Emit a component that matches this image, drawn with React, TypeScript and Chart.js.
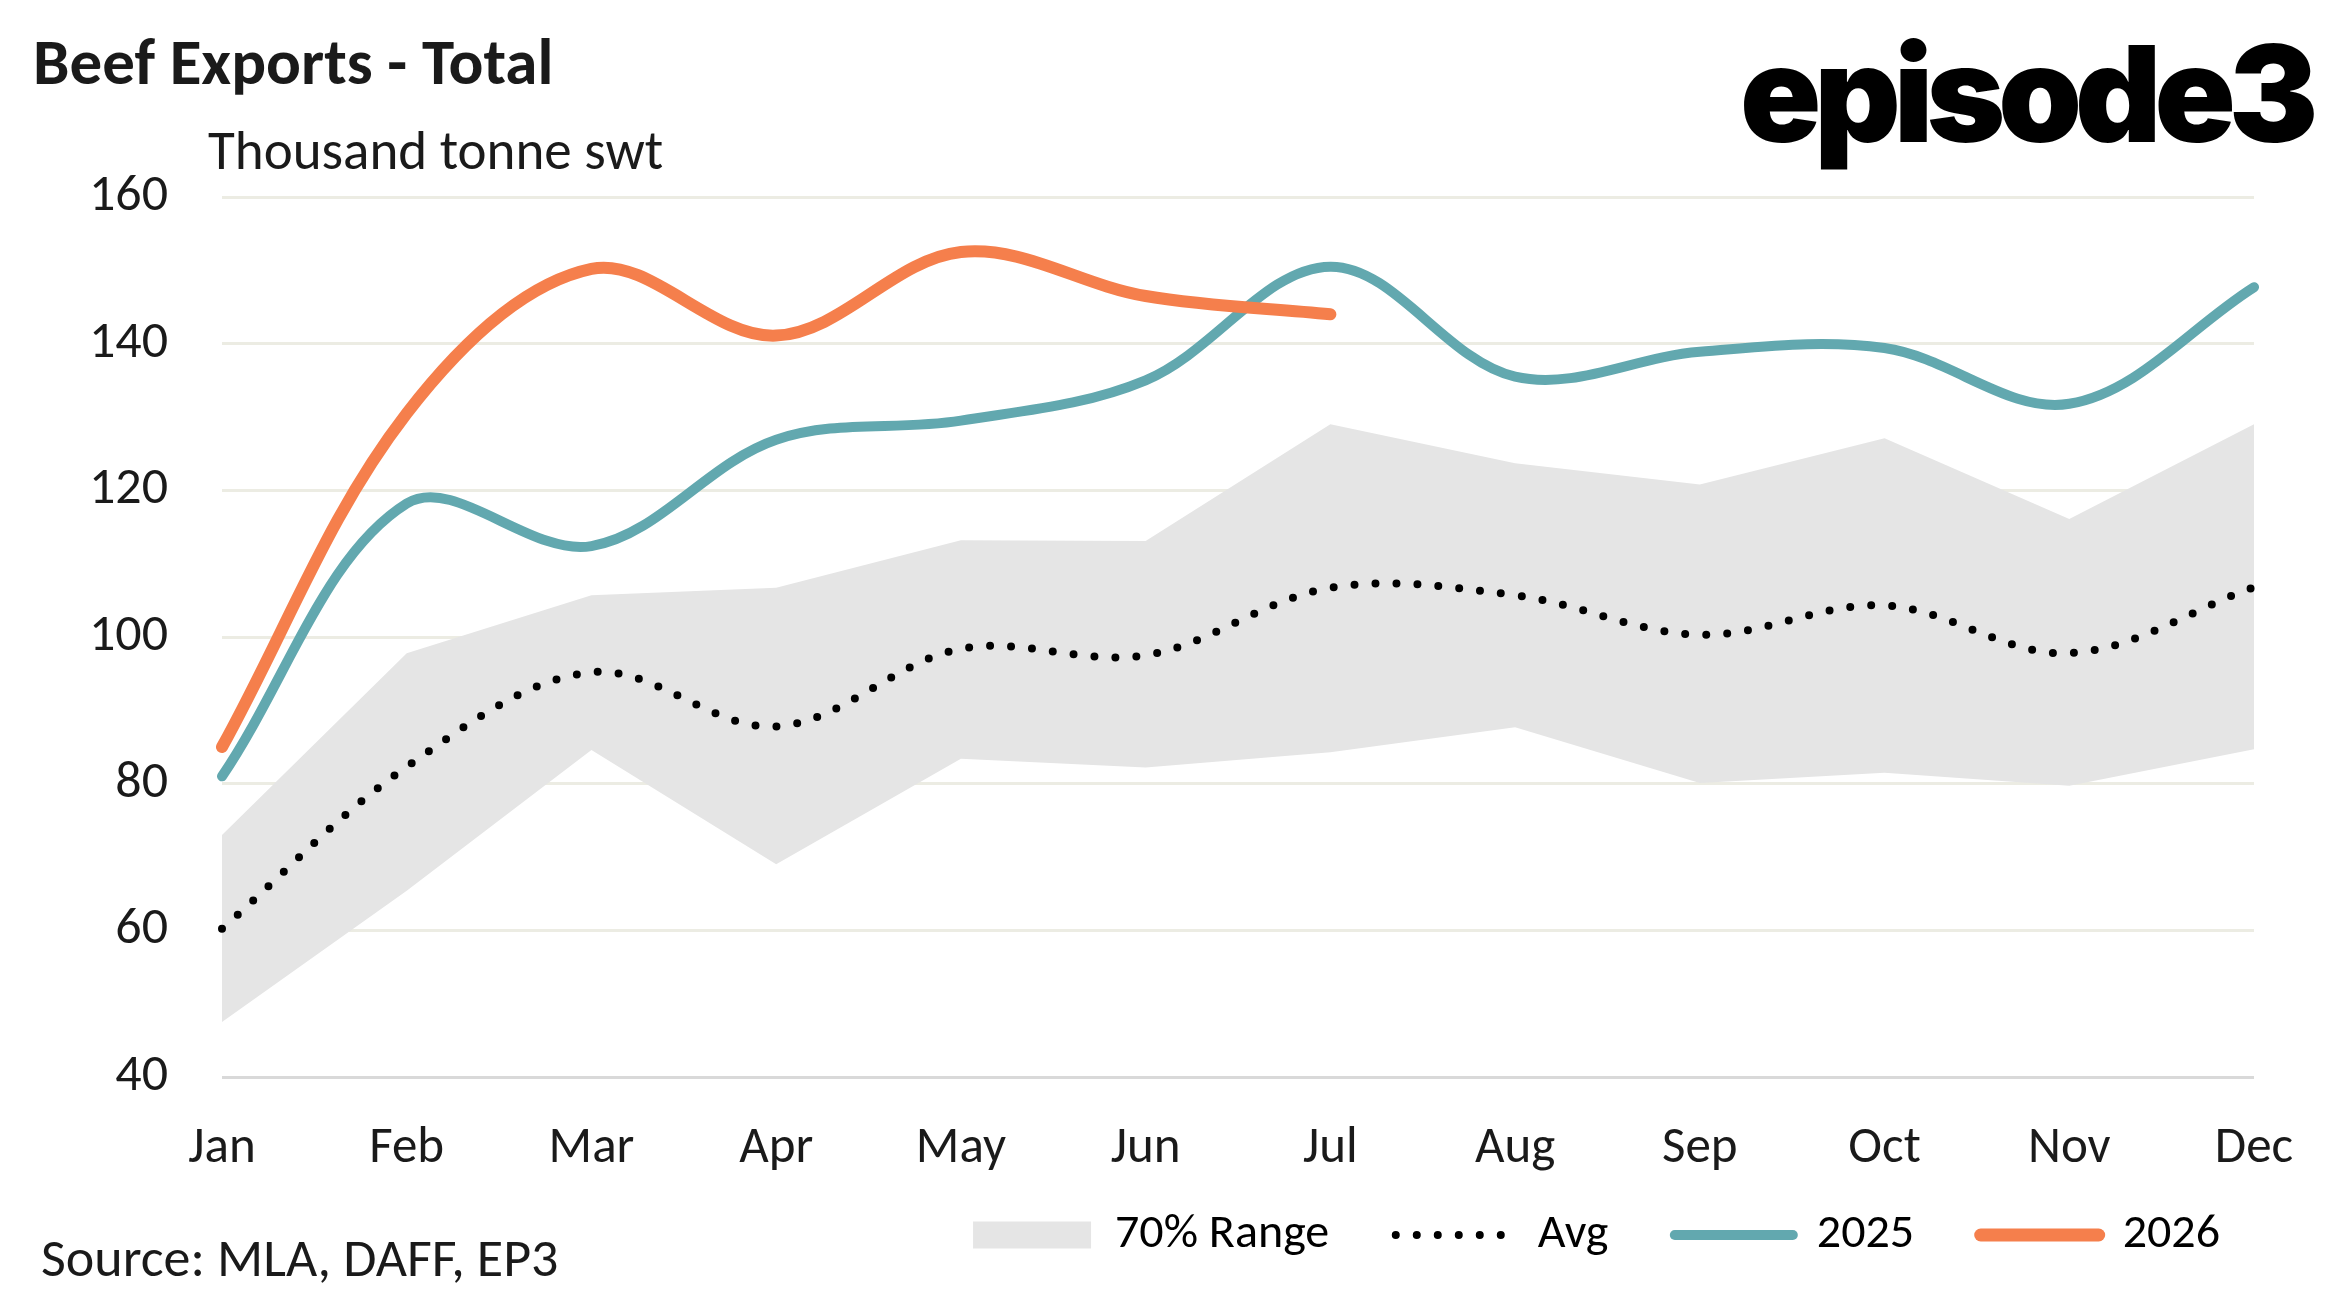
import { Chart, registerables } from "chart.js";
import { useEffect, useRef } from "react";
Chart.register(...registerables);

const months = ["Jan", "Feb", "Mar", "Apr", "May", "Jun", "Jul", "Aug", "Sep", "Oct", "Nov", "Dec"];
const rangeLow = [47.5, 65.4, 84.6, 69, 83.4, 82.2, 84.3, 87.7, 80.1, 81.5, 79.7, 84.7];
const rangeHigh = [73, 97.8, 105.7, 106.7, 113.2, 113.1, 129, 123.7, 120.8, 127.1, 116.1, 129];
const avg = [60.2, 82.3, 95.2, 87.8, 98.4, 97.5, 106.7, 105.7, 100.3, 104.3, 97.8, 106.8];
const y2025 = [81, 118.2, 112.4, 126.9, 129.5, 135, 150.5, 135.5, 138.9, 139.4, 131.8, 147.7];
const y2026 = [85, 130.5, 150.2, 141.1, 152.5, 146.5, 144, null, null, null, null, null];
const yTicks = [40, 60, 80, 100, 120, 140, 160];

const FONT = "Carlito, Lato, 'Open Sans', sans-serif";
const TEAL = "#62a8af";
const ORANGE = "#f57f4c";
const BAND = "#e5e5e5";
// trailing spaces widen the gap between legend entries
const GAP = "   ";

function BeefChart() {
  const chartRef = useRef<HTMLCanvasElement | null>(null);
  const chartInstance = useRef<Chart | null>(null);

  useEffect(() => {
    const ctx = chartRef.current?.getContext("2d");
    if (chartInstance.current) {
      chartInstance.current.destroy();
    }
    if (ctx) {
      chartInstance.current = new Chart(ctx, {
        type: "line",
        data: {
          labels: months,
          datasets: [
            {
              label: "2026",
              data: y2026,
              borderColor: ORANGE,
              borderWidth: 12,
              borderCapStyle: "round",
              borderJoinStyle: "round",
              pointRadius: 0,
              tension: 0.35,
              fill: false,
            },
            {
              label: "2025",
              data: y2025,
              borderColor: TEAL,
              borderWidth: 10,
              borderCapStyle: "round",
              pointRadius: 0,
              tension: 0.35,
              fill: false,
            },
            {
              label: "Avg",
              data: avg,
              borderColor: "#000000",
              borderWidth: 8,
              borderDash: [0, 21],
              borderCapStyle: "round",
              pointRadius: 0,
              tension: 0.35,
              fill: false,
            },
            {
              label: "low",
              data: rangeLow,
              borderWidth: 0,
              borderColor: "rgba(0,0,0,0)",
              pointRadius: 0,
              tension: 0,
              fill: false,
            },
            {
              label: "70% Range",
              data: rangeHigh,
              borderWidth: 0,
              borderColor: "rgba(0,0,0,0)",
              backgroundColor: BAND,
              pointRadius: 0,
              tension: 0,
              fill: "-1",
            },
          ],
        },
        options: {
          responsive: false,
          animation: false,
          layout: {
            padding: { left: 81, right: 92, top: 197, bottom: 37 },
          },
          plugins: {
            title: { display: false },
            tooltip: { enabled: false },
            legend: {
              position: "bottom",
              align: "end",
              labels: {
                font: { family: FONT, size: 48 },
                color: "#1a1a1a",
                padding: 34,
                usePointStyle: true,
                pointStyleWidth: 118,
                boxHeight: 27,
                generateLabels: () => [
                  {
                    text: "70% Range" + GAP,
                    fillStyle: BAND,
                    strokeStyle: BAND,
                    lineWidth: 0,
                    pointStyle: "rect",
                    datasetIndex: 4,
                    hidden: false,
                  },
                  {
                    text: "Avg" + GAP,
                    fillStyle: "rgba(0,0,0,0)",
                    strokeStyle: "#000000",
                    lineWidth: 8,
                    lineDash: [0, 21],
                    lineCap: "round",
                    pointStyle: "line",
                    datasetIndex: 2,
                    hidden: false,
                  },
                  {
                    text: "2025" + GAP,
                    fillStyle: TEAL,
                    strokeStyle: TEAL,
                    lineWidth: 10,
                    lineCap: "round",
                    pointStyle: "line",
                    datasetIndex: 1,
                    hidden: false,
                  },
                  {
                    text: "2026",
                    fillStyle: ORANGE,
                    strokeStyle: ORANGE,
                    lineWidth: 13,
                    lineCap: "round",
                    pointStyle: "line",
                    datasetIndex: 0,
                    hidden: false,
                  },
                ],
              },
            },
          },
          scales: {
            x: {
              grid: { display: false },
              border: { display: false },
              ticks: {
                font: { family: FONT, size: 51 },
                color: "#1a1a1a",
                padding: 34,
                maxRotation: 0,
                autoSkip: false,
              },
              afterFit: (scale: any) => {
                scale.height = 100;
              },
            },
            y: {
              min: 40,
              max: 160,
              afterBuildTicks: (scale: any) => {
                scale.ticks = yTicks.map((v) => ({ value: v }));
              },
              grid: {
                drawTicks: false,
                lineWidth: 3,
                color: (c: any) => (c.tick && c.tick.value === 40 ? "#d9d9d9" : "#ecece3"),
              },
              border: { display: false },
              ticks: {
                font: { family: FONT, size: 52 },
                color: "#1a1a1a",
                padding: 54,
              },
              afterFit: (scale: any) => {
                scale.width = 141;
              },
            },
          },
        },
      });
    }
    return () => {
      if (chartInstance.current) {
        chartInstance.current.destroy();
        chartInstance.current = null;
      }
    };
  }, []);

  return <canvas ref={chartRef} width={2346} height={1306} style={{ position: "absolute", left: 0, top: 0 }} />;
}

export default function App() {
  return (
    <div
      style={{
        position: "fixed",
        left: 0,
        top: 0,
        width: 2346,
        height: 1306,
        background: "#ffffff",
        overflow: "hidden",
        fontFamily: FONT,
        color: "#1a1a1a",
      }}
    >
      <BeefChart />
      <div style={{ position: "absolute", left: 33, top: 29, fontSize: 65, fontWeight: 900, lineHeight: 1, whiteSpace: "nowrap" }}>
        Beef Exports - Total
      </div>
      <div style={{ position: "absolute", left: 208, top: 123, fontSize: 55, lineHeight: 1, whiteSpace: "nowrap" }}>
        Thousand tonne swt
      </div>
      <div style={{ position: "absolute", left: 41, top: 1231, fontSize: 54, lineHeight: 1, whiteSpace: "nowrap" }}>
        Source: MLA, DAFF, EP3
      </div>
      <div
        style={{
          position: "absolute",
          left: 1740,
          top: 26,
          fontFamily: "Inter, sans-serif",
          fontWeight: 900,
          fontSize: 134,
          letterSpacing: -7,
          lineHeight: 1,
          color: "#000000",
          whiteSpace: "nowrap",
        }}
      >
        episode3
      </div>
    </div>
  );
}
